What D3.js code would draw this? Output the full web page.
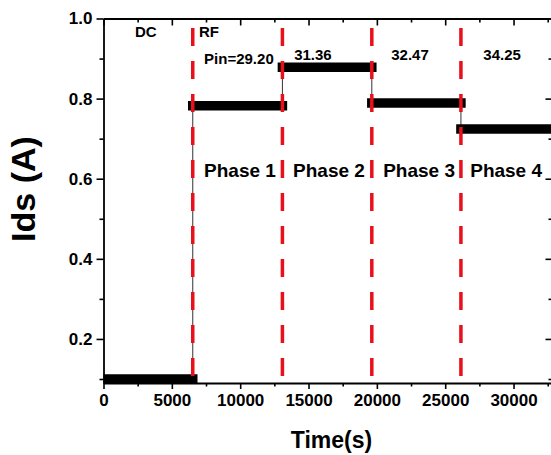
<!DOCTYPE html>
<html>
<head>
<meta charset="utf-8">
<script src="https://cdn.jsdelivr.net/npm/d3@7"></script>
<style>
  html, body { margin: 0; padding: 0; background: #fff; }
  svg { display: block; }
  text { font-family: "Liberation Sans", Arial, sans-serif; font-weight: bold; fill: #000; }
</style>
</head>
<body>
<svg id="chart" width="551" height="455"></svg>
<script>
// ---------- data ----------
const segStart = [0, 6530, 13090, 19630, 26150];
const segEnd   = [6530, 13090, 19630, 26150, 34000];
const segLevel = [0.100, 0.782, 0.878, 0.789, 0.724];
const transitions = [6530, 13090, 19630, 26150];

const xTicks = [0, 5000, 10000, 15000, 20000, 25000, 30000];
const xMinor = [2500, 7500, 12500, 17500, 22500, 27500, 32500];
const yTicks = [0.2, 0.4, 0.6, 0.8, 1.0];
const yMinor = [0.1, 0.3, 0.5, 0.7, 0.9];

const modeLabels = ["DC", "RF"];
const modeTimes  = [2300, 6990];
const modeLevel  = 0.953;

const pinLabels = ["Pin=29.20", "31.36", "32.47", "34.25"];
const pinTimes  = [7360, 13950, 21050, 27790];
const pinLevels = [0.886, 0.896, 0.896, 0.896];

const phaseLabels = ["Phase 1", "Phase 2", "Phase 3", "Phase 4"];
const phaseTimes  = [7360, 13870, 20460, 26830];
const phaseLevel  = 0.604;

// ---------- layout ----------
const svg = d3.select("#chart");
const L = 103.5, R = 552.5, T = 18.5, B = 383;

const x = d3.scaleLinear().domain([0, 32850]).range([L, R]);
const y = d3.scaleLinear().domain([0.09, 1.0]).range([B, T]);

svg.append("defs").append("clipPath").attr("id", "clip")
  .append("rect").attr("x", L).attr("y", T).attr("width", R - L).attr("height", B - T + 6);

const plot = svg.append("g").attr("clip-path", "url(#clip)");

// thin connectors between levels
plot.selectAll("line.conn").data(transitions).join("line")
  .attr("class", "conn")
  .attr("x1", d => x(d)).attr("x2", d => x(d))
  .attr("y1", (d, i) => y(segLevel[i])).attr("y2", (d, i) => y(segLevel[i + 1]))
  .attr("stroke", "#333").attr("stroke-width", 1);

// thick measured segments
plot.selectAll("line.seg").data(segLevel).join("line")
  .attr("class", "seg")
  .attr("x1", (d, i) => x(segStart[i])).attr("x2", (d, i) => x(segEnd[i]))
  .attr("y1", d => y(d)).attr("y2", d => y(d))
  .attr("stroke", "#000").attr("stroke-width", 9.5).attr("stroke-linecap", "square");

// red dashed phase boundaries
svg.selectAll("line.bound").data(transitions).join("line")
  .attr("class", "bound")
  .attr("x1", d => x(d)).attr("x2", d => x(d))
  .attr("y1", 376).attr("y2", 20)
  .attr("stroke", "#e8101a").attr("stroke-width", 3.5)
  .attr("stroke-dasharray", "18,15");

// ---------- axes ----------
function styleAxis(g) {
  g.selectAll(".domain").attr("stroke", "#000").attr("stroke-width", 1.8);
  g.selectAll(".tick line").attr("stroke", "#000").attr("stroke-width", 1.6);
}

// bottom
svg.append("g").attr("transform", `translate(0,${B})`)
  .call(d3.axisBottom(x).tickValues(xTicks).tickSize(6).tickSizeOuter(0).tickPadding(5).tickFormat(d3.format("d")))
  .call(styleAxis)
  .call(g => g.selectAll("text").attr("font-size", 17).attr("font-family", "Liberation Sans, Arial, sans-serif").attr("font-weight", "bold").attr("fill", "#000"));
svg.append("g").attr("transform", `translate(0,${B})`)
  .call(d3.axisBottom(x).tickValues(xMinor).tickSize(3.5).tickSizeOuter(0).tickFormat(""))
  .call(styleAxis).call(g => g.select(".domain").remove());

// top
svg.append("g").attr("transform", `translate(0,${T})`)
  .call(d3.axisTop(x).tickValues(xTicks).tickSize(-7).tickSizeOuter(0).tickFormat(""))
  .call(styleAxis);
svg.append("g").attr("transform", `translate(0,${T})`)
  .call(d3.axisTop(x).tickValues(xMinor).tickSize(-4).tickSizeOuter(0).tickFormat(""))
  .call(styleAxis).call(g => g.select(".domain").remove());

// left
svg.append("g").attr("transform", `translate(${L},0)`)
  .call(d3.axisLeft(y).tickValues(yTicks).tickSize(7).tickSizeOuter(0).tickPadding(4).tickFormat(d3.format(".1f")))
  .call(styleAxis)
  .call(g => g.selectAll("text").attr("font-size", 17).attr("font-family", "Liberation Sans, Arial, sans-serif").attr("font-weight", "bold").attr("fill", "#000"));
svg.append("g").attr("transform", `translate(${L},0)`)
  .call(d3.axisLeft(y).tickValues(yMinor).tickSize(4).tickSizeOuter(0).tickFormat(""))
  .call(styleAxis).call(g => g.select(".domain").remove());

// right
svg.append("g").attr("transform", `translate(${R},0)`)
  .call(d3.axisRight(y).tickValues(yTicks).tickSize(-7).tickSizeOuter(0).tickFormat(""))
  .call(styleAxis);
svg.append("g").attr("transform", `translate(${R},0)`)
  .call(d3.axisRight(y).tickValues(yMinor).tickSize(-4).tickSizeOuter(0).tickFormat(""))
  .call(styleAxis).call(g => g.select(".domain").remove());

// ---------- annotations ----------
svg.selectAll("text.mode").data(modeLabels).join("text")
  .attr("class", "mode")
  .attr("x", (d, i) => x(modeTimes[i])).attr("y", y(modeLevel))
  .attr("font-size", 15).text(d => d);

svg.selectAll("text.pin").data(pinLabels).join("text")
  .attr("class", "pin")
  .attr("x", (d, i) => x(pinTimes[i])).attr("y", (d, i) => y(pinLevels[i]))
  .attr("font-size", 15).text(d => d);

svg.selectAll("text.phase").data(phaseLabels).join("text")
  .attr("class", "phase")
  .attr("x", (d, i) => x(phaseTimes[i])).attr("y", y(phaseLevel))
  .attr("font-size", 19).text(d => d);

// axis titles
svg.append("text")
  .attr("x", 331.5).attr("y", 448)
  .attr("text-anchor", "middle").attr("font-size", 23)
  .text("Time(s)");

svg.append("text")
  .attr("transform", "translate(35,189) rotate(-90)")
  .attr("text-anchor", "middle").attr("font-size", 34)
  .text("Ids (A)");
</script>
</body>
</html>
